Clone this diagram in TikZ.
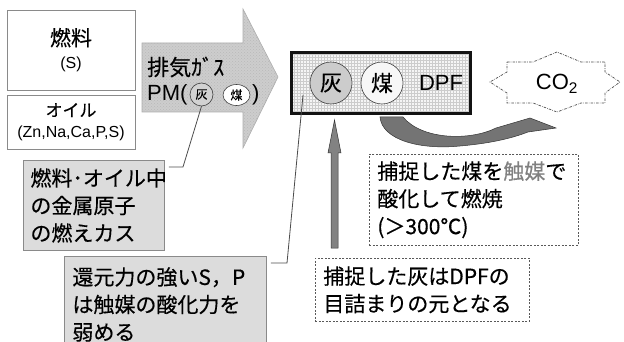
\documentclass[tikz,border=0pt]{standalone}
\usepackage{fontspec}
\setmainfont{Liberation Sans}
\newfontfamily\jp{Noto Sans CJK JP}[FakeBold=0.4]
\usetikzlibrary{patterns,calc,shapes.geometric}
\definecolor{boxgray}{HTML}{DCDCDC}
\definecolor{edgegray}{HTML}{8A8A8A}
\definecolor{arrowgray}{HTML}{CDCDCD}
\definecolor{darkarrow}{HTML}{747474}
\tikzset{
  whitebox/.style={draw=edgegray, line width=0.9pt, fill=white, minimum width=128pt, align=center, inner sep=0pt},
  notebox/.style={draw=edgegray, line width=0.9pt, fill=boxgray, anchor=north west, align=left, inner xsep=7pt, inner ysep=0pt, font=\jp\fontsize{21}{27.5}\selectfont},
  dashbox/.style={draw=gray!70!black, line width=0.7pt, dash pattern=on 2pt off 1.5pt, fill=white, anchor=north west, align=left, inner xsep=8pt, inner ysep=0pt, font=\jp\fontsize{21}{27.5}\selectfont},
  leader/.style={draw=gray!60!black, line width=0.8pt},
  ashball/.style={circle, draw=gray!50!black, line width=0.6pt, fill=gray!40, inner sep=0pt},
  sootball/.style={circle, draw=gray!50!black, line width=0.6pt, fill=gray!6, inner sep=0pt},
}
\begin{document}
\begin{tikzpicture}[x=1pt,y=-1pt]
\useasboundingbox (0,0) rectangle (624,342);

% fuel and oil boxes
\node[whitebox, minimum height=80pt, font=\fontsize{16}{23}\selectfont] (fuel) at (71,50)
  {{\jp\fontsize{21}{23}\selectfont 燃料}\\{\fontsize{16}{23}\selectfont (S)}};
\node[whitebox, minimum height=54pt, font=\fontsize{16}{21}\selectfont] (oil) at (71,122)
  {{\jp\fontsize{17}{21}\selectfont オイル}\\{\fontsize{16}{21}\selectfont (Zn,Na,Ca,P,S)}};

% big exhaust arrow
\path[draw=gray!65, line width=0.6pt, fill=arrowgray]
  (142,43) -- (243,43) -- (243,9) -- (278,77) -- (243,148) -- (243,112) -- (142,112) -- cycle;
\path[pattern=crosshatch dots, pattern color=gray!55]
  (142,43) -- (243,43) -- (243,9) -- (278,77) -- (243,148) -- (243,112) -- (142,112) -- cycle;
\node[anchor=west, inner sep=0pt, font=\jp\fontsize{22}{24}\selectfont] (exh) at (147,67) {排気ｶﾞｽ};
\node[anchor=west, inner sep=0pt, font=\fontsize{22}{24}\selectfont] (pm) at (147,95) {PM(};
\node[ashball, fill=gray!35, minimum width=23pt, minimum height=22pt, font=\jp\fontsize{12}{12}\selectfont] (ash1) at (201.5,94.5) {灰};
\node[sootball, ellipse, fill=white, minimum width=27pt, minimum height=21pt, font=\jp\fontsize{12}{12}\selectfont] (soot1) at (236.5,95) {煤};
\node[anchor=west, inner sep=0pt, font=\fontsize{22}{24}\selectfont] (pmr) at (252,95) {)};

% DPF
\node[draw=gray!15!black, line width=3pt, minimum width=179pt, minimum height=61pt,
      preaction={fill=gray!8}, pattern=grid, pattern color=gray!40] (dpf) at (381,83) {};
\node[ashball, minimum size=42pt, font=\jp\fontsize{22}{24}\selectfont] (ash2) at (331,83) {灰};
\node[sootball, minimum size=42pt, font=\jp\fontsize{22}{24}\selectfont] (soot2) at (382,83) {煤};
\node[inner sep=0pt, font=\fontsize{22}{24}\selectfont] (dpftxt) at (441,83) {DPF};

% CO2 burst
\node[inner sep=0pt, font=\fontsize{22}{24}\selectfont] (co2) at (557,84) {CO\textsubscript{2}};
\begin{scope}[shift={(co2.center)}]
\draw[gray!60!black, line width=0.7pt, dash pattern=on 2.5pt off 1.2pt on 0.6pt off 1.2pt]
  (-50,-22) -- (-24,-22) -- (0,-32) -- (24,-22) -- (48,-22) -- (48,-12) -- (63,-2)
  -- (48,9) -- (48,19) -- (24,19) -- (0,28) -- (-24,19) -- (-50,19) -- (-50,9)
  -- (-67,-2) -- (-50,-12) -- cycle;
\end{scope}

% curved arrow DPF -> CO2
\path[draw=gray!40!black, line width=0.5pt, fill=darkarrow]
  (380,117) .. controls (382,140) and (420,150) .. (460,146)
  .. controls (495,143) and (515,137) .. (528,132)
  -- (556,128) -- (530,118) -- (496,128)
  .. controls (470,141) and (422,140) .. (403,117) -- cycle;

% vertical arrow
\coordinate (vbot) at (334.5,248);
\path[draw=gray!40!black, line width=0.5pt, fill=darkarrow!90]
  ($(vbot)+(-3.5,0)$) -- ($(vbot)+(-3.5,-95)$) -- ($(vbot)+(-6.5,-95)$)
  -- (vbot |- 0,120) -- ($(vbot)+(6.5,-95)$) -- ($(vbot)+(3.5,-95)$)
  -- ($(vbot)+(3.5,0)$) -- cycle;

% note boxes
\node[notebox, text width=127pt, minimum height=90pt] (note1) at (23,160)
  {燃料･オイル中\\の金属原子\\の燃えカス};
\node[notebox, inner xsep=8pt, text width=186pt, minimum height=96pt] (note2) at (64,256)
  {還元力の強いS，P\\は触媒の酸化力を\\弱める};
\node[dashbox, text width=193pt, minimum height=91pt] (note3) at (369,154)
  {捕捉した煤を{\color{gray}触媒}で\\酸化して燃焼\\(＞300℃)};
\node[dashbox, text width=198pt, minimum height=63pt] (note4) at (315,258)
  {捕捉した灰はDPFの\\目詰まりの元となる};

% leader lines
\draw[leader] (ash1.south) -- (183,167) -- ($(note1.north east)+(4,7)$);
\draw[leader] (303,95) -- (287,263) -- ($(note2.north east)+(4,7)$);
\end{tikzpicture}
\end{document}
